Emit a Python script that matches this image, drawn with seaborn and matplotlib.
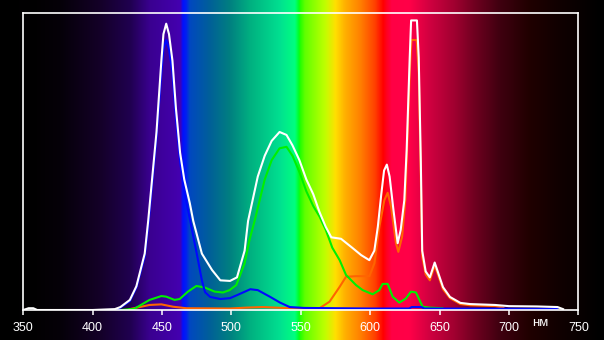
import numpy as np
import pandas as pd
import matplotlib
matplotlib.use("Agg")
import matplotlib.pyplot as plt
import seaborn as sns
from matplotlib.colors import LinearSegmentedColormap, to_rgb

# ---------------- data ----------------
white_nm = [350, 353.8, 355, 357.2, 360, 400, 416, 420, 426.8, 431.5, 437.5, 440, 443, 446,
            449.5, 451, 453, 455, 457.5, 460, 463, 466, 470, 472.5, 478.7, 486, 492, 499,
            504, 509.5, 512, 519, 524, 529, 534.7, 539.7, 544, 549, 554, 559, 563.5, 568,
            572, 579, 587, 593.5, 599.4, 603, 605.5, 608, 610, 612, 614, 616.7, 619.8, 622,
            624.6, 626.3, 628.5, 629.5, 633.7, 635, 636.5, 637.5, 640, 643, 646.5, 652.5,
            657.5, 665, 672, 690, 700, 720, 735, 739]
white_val = [0.0, 0.006, 0.006, 0.006, 0.0, 0.0, 0.003, 0.01, 0.034, 0.08, 0.19, 0.30, 0.45, 0.60,
             0.84, 0.93, 0.965, 0.93, 0.84, 0.68, 0.53, 0.44, 0.36, 0.30, 0.19, 0.135, 0.10, 0.098,
             0.11, 0.20, 0.30, 0.45, 0.52, 0.57, 0.60, 0.59, 0.555, 0.505, 0.44, 0.39, 0.33, 0.28,
             0.245, 0.24, 0.21, 0.185, 0.168, 0.20, 0.28, 0.39, 0.47, 0.49, 0.45, 0.34, 0.225, 0.27,
             0.37, 0.54, 0.85, 0.976, 0.976, 0.85, 0.50, 0.20, 0.13, 0.11, 0.16, 0.077,
             0.044, 0.024, 0.02, 0.017, 0.013, 0.012, 0.01, 0.003]

blue_nm = [418, 420, 426.8, 431.5, 437.5, 440, 443, 446, 449.5, 451, 453, 455, 457.5, 460, 463,
           466, 470.3, 475, 478.7, 481, 484.7, 492, 499, 504, 513.6, 519, 528, 535, 542, 552,
           600, 628, 630, 637, 639, 735]
blue_val = [0.0, 0.008, 0.03, 0.075, 0.18, 0.28, 0.43, 0.58, 0.80, 0.88, 0.91, 0.88, 0.80, 0.65, 0.50,
            0.40, 0.30, 0.19, 0.10, 0.06, 0.044, 0.037, 0.04, 0.05, 0.07, 0.067, 0.044, 0.025, 0.01, 0.007,
            0.005, 0.005, 0.01, 0.01, 0.005, 0.004]

green_nm = [420, 430, 441, 449.5, 453, 459, 462.7, 468.7, 474.7, 480.7, 487.9, 493.9, 498.7, 503.5,
            509.5, 513, 516.7, 524, 529, 534.7, 539.7, 544, 549, 554, 559, 563.5, 568, 572.7, 578,
            582.6, 589.8, 594.6, 601.8, 606.6, 609, 612.6, 616.2, 621, 625.8, 629.4, 633, 637.8,
            642.6, 652]
green_val = [0.0, 0.004, 0.034, 0.047, 0.045, 0.034, 0.037, 0.062, 0.081, 0.076, 0.062, 0.059, 0.067, 0.084,
             0.157, 0.236, 0.30, 0.44, 0.505, 0.545, 0.55, 0.52, 0.465, 0.40, 0.35, 0.315, 0.27, 0.21, 0.168,
             0.118, 0.084, 0.067, 0.053, 0.067, 0.088, 0.088, 0.045, 0.025, 0.039, 0.062, 0.059, 0.011,
             0.008, 0.006]

red_nm = [426.7, 434, 441, 449.5, 458, 467.5, 498.7, 510.7, 522.7, 537, 549, 561, 563.5, 570.7, 578,
          582.6, 589.8, 599.4, 603, 606.6, 610.2, 612.6, 615, 618.6, 620.3, 623, 625.3, 626.3, 628.5,
          629.7, 633.5, 635, 636.5, 637.5, 640, 643, 646.5, 652.5, 657.5, 665, 672, 690, 696]
red_val = [0.003, 0.01, 0.017, 0.019, 0.011, 0.006, 0.005, 0.008, 0.01, 0.007, 0.005, 0.006, 0.006, 0.028,
           0.078, 0.112, 0.114, 0.114, 0.157, 0.28, 0.37, 0.395, 0.35, 0.225, 0.196, 0.247, 0.37, 0.50, 0.80,
           0.91, 0.91, 0.80, 0.45, 0.18, 0.12, 0.10, 0.15, 0.07, 0.04, 0.02, 0.016, 0.013, 0.008]

x_ticks = [350, 400, 450, 500, 550, 600, 650, 700, 750]
unit_label = "нм"

# spectrum background colour stops (nm, colour)
spec_nm = [333, 360, 376.4, 405.3, 427, 441.3, 463, 465, 467.3, 470, 484.5, 499, 513.5, 535, 545.8,
           548.7, 549.5, 553, 567.6, 575, 582, 593, 603.6, 609.5, 612, 615.6, 628.6, 643, 661,
           675.4, 693.4, 715, 737, 765.6, 769]
spec_col = ["#000000", "#020002", "#050008", "#140028", "#200050", "#3a0090", "#4400b0", "#0010ff",
            "#0020f0", "#0048c0", "#006098", "#008080", "#00b080", "#00e090", "#00ff80", "#00ff20",
            "#20ff00", "#60ff00", "#c0ff00", "#ffe000", "#ffb000", "#ff8000", "#ff4000", "#ff0000",
            "#ff0020", "#ff0045", "#ff0048", "#d00040", "#a00030", "#700020", "#400010", "#200000",
            "#100000", "#000000", "#000000"]

# ---------------- figure ----------------
plt.rcParams['font.family'] = ['Liberation Sans', 'DejaVu Sans']
W, H = 604, 340
fig = plt.figure(figsize=(W / 100, H / 100), dpi=100, facecolor='black')

x_left_px, x_right_px = 23.3, 578.3
y_top_px, y_bot_px = 13.3, 310
nm_per_px = (750 - 350) / (x_right_px - x_left_px)
nm_fig0 = 350 - x_left_px * nm_per_px
nm_fig1 = 350 + (W - x_left_px) * nm_per_px

# background spectrum over full figure
bg = fig.add_axes([0, 0, 1, 1], zorder=0)
lo, hi = spec_nm[0], spec_nm[-1]
cmap = LinearSegmentedColormap.from_list(
    "spec", [((n - lo) / (hi - lo), to_rgb(c)) for n, c in zip(spec_nm, spec_col)], N=2048)
grid = np.linspace(nm_fig0, nm_fig1, 1200)
img = cmap((np.clip(grid, lo, hi) - lo) / (hi - lo))[None, :, :]
bg.imshow(img, aspect='auto', extent=[nm_fig0, nm_fig1, 0, 1], interpolation='bilinear')
bg.set_xlim(nm_fig0, nm_fig1)
bg.set_ylim(0, 1)
bg.axis('off')

ax = fig.add_axes([x_left_px / W, 1 - y_bot_px / H,
                   (x_right_px - x_left_px) / W, (y_bot_px - y_top_px) / H], zorder=1)
ax.set_facecolor('none')

series = [
    (red_nm, red_val, "#ff6400"),
    (green_nm, green_val, "#00f000"),
    (blue_nm, blue_val, "#0008ff"),
    (white_nm, white_val, "#ffffff"),
]
for xs, ys, col in series:
    df = pd.DataFrame({"nm": xs, "v": ys})
    sns.lineplot(data=df, x="nm", y="v", ax=ax, color=col, lw=1.5, sort=False,
                 estimator=None, legend=False)

ax.set_xlim(350, 750)
ax.set_ylim(0, 1)
ax.set_xticks(x_ticks)
ax.set_xticklabels([str(t) for t in x_ticks])
ax.set_yticks([])
ax.set_xlabel("")
ax.set_ylabel("")
for s in ax.spines.values():
    s.set_color('white')
    s.set_linewidth(1.2)
ax.tick_params(axis='x', colors='white', labelcolor='white', direction='out',
               length=3.3, width=1.1, pad=5, labelsize=9)

fig.text(540.5 / W, 1 - 326 / H, unit_label, color='white', fontsize=9.5,
         ha='center', va='baseline')

fig.savefig("out.png", dpi=100, facecolor='black')
